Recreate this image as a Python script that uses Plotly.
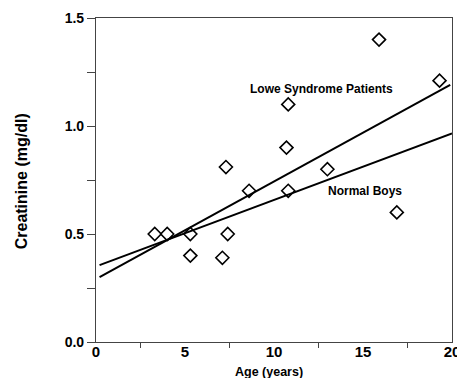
import plotly.graph_objects as go

# Data
age = [3.3, 4.0, 5.3, 5.3, 7.1, 7.4, 7.3, 8.6, 10.8, 10.7, 10.8, 13.0, 15.9, 16.9, 19.3]
creatinine = [0.50, 0.50, 0.50, 0.40, 0.39, 0.50, 0.81, 0.70, 0.70, 0.90, 1.10, 0.80, 1.40, 0.60, 1.21]

lowe_line_x = [0.2, 19.9]
lowe_line_y = [0.30, 1.19]
normal_line_x = [0.2, 20.0]
normal_line_y = [0.356, 0.966]

x_tick_vals = [0, 5, 10, 15, 20]
x_tick_text = ["0", "5", "10", "15", "20"]
x_minor_vals = [2.5, 7.5, 12.5, 17.5]
y_tick_vals = [0.0, 0.25, 0.5, 0.75, 1.0, 1.25, 1.5]
y_tick_text = ["0.0", "", "0.5", "", "1.0", "", "1.5"]

FONT = "Liberation Sans, Arial, Helvetica, sans-serif"

fig = go.Figure()
fig.add_trace(go.Scatter(x=lowe_line_x, y=lowe_line_y, mode="lines",
                         line=dict(color="black", width=2), showlegend=False, hoverinfo="skip"))
fig.add_trace(go.Scatter(x=normal_line_x, y=normal_line_y, mode="lines",
                         line=dict(color="black", width=2), showlegend=False, hoverinfo="skip"))
fig.add_trace(go.Scatter(x=age, y=creatinine, mode="markers",
                         marker=dict(symbol="diamond-open", size=10, color="black",
                                     line=dict(width=1.6, color="black")),
                         showlegend=False))

fig.add_annotation(x=12.67, y=1.173, text="<b>Lowe Syndrome Patients</b>", showarrow=False,
                   xanchor="center", yanchor="middle",
                   font=dict(family=FONT, size=12, color="black"))
fig.add_annotation(x=15.14, y=0.699, text="<b>Normal Boys</b>", showarrow=False,
                   xanchor="center", yanchor="middle",
                   font=dict(family=FONT, size=12, color="black"))

# axis titles
fig.add_annotation(xref="paper", yref="paper", x=-0.2107, y=0.496, textangle=-90,
                   xanchor="center", yanchor="middle",
                   text="<b>Creatinine (mg/dl)</b>", showarrow=False,
                   font=dict(family=FONT, size=16, color="black"))
fig.add_annotation(xref="paper", yref="paper", x=0.486, y=-0.0926,
                   xanchor="center", yanchor="middle",
                   text="<b>Age (years)</b>", showarrow=False,
                   font=dict(family=FONT, size=12.5, color="black"))

fig.update_layout(
    width=457, height=378,
    margin=dict(l=96, r=5, t=18, b=36),
    plot_bgcolor="white", paper_bgcolor="white",
    font=dict(family=FONT, color="black"),
    xaxis=dict(range=[0, 20], tickvals=x_tick_vals, ticktext=x_tick_text,
               ticks="", showgrid=False, zeroline=False, automargin=False,
               showline=True, linecolor="#444", linewidth=1.2, mirror=True,
               tickfont=dict(family=FONT, size=15, weight="bold"),
               ticklabeloverflow="allow", ticklabelstandoff=-4,
               minor=dict(tickvals=x_minor_vals, ticks="outside", ticklen=5,
                          tickcolor="#444", showgrid=False)),
    yaxis=dict(range=[0, 1.5], tickvals=y_tick_vals, ticktext=y_tick_text,
               ticks="outside", ticklen=8, tickcolor="#444",
               showgrid=False, zeroline=False, automargin=False,
               showline=True, linecolor="#444", linewidth=1.2, mirror=True,
               tickfont=dict(family=FONT, size=14, weight="bold")),
)

fig.write_html("out.html")
